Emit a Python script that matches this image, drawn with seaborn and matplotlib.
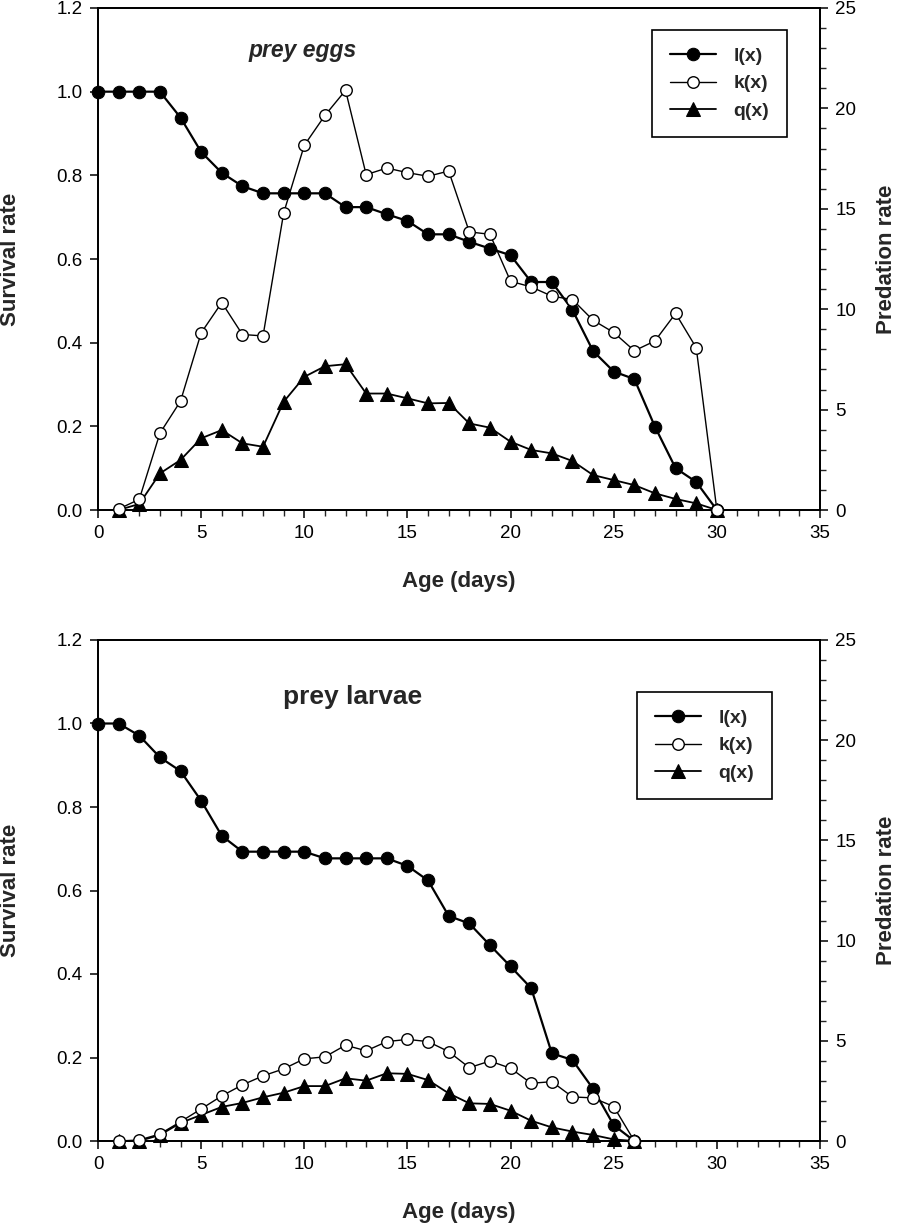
import matplotlib
matplotlib.use('Agg')
import matplotlib.pyplot as plt
import seaborn as sns
from matplotlib.ticker import MultipleLocator, FormatStrFormatter

sns.set_style('ticks')
plt.rcParams['font.family'] = ['Liberation Sans', 'DejaVu Sans']

# prey eggs (top panel)
eggs_age_l = list(range(0, 31))
eggs_lx = [1.0, 1.0, 1.0, 1.0, 0.938, 0.856, 0.806, 0.774, 0.757, 0.757, 0.757,
           0.757, 0.724, 0.724, 0.707, 0.691, 0.659, 0.659, 0.641, 0.625, 0.609,
           0.545, 0.545, 0.478, 0.38, 0.331, 0.313, 0.199, 0.1, 0.067, 0.0]
eggs_age_kq = list(range(1, 31))
eggs_kx = [0.05, 0.53, 3.82, 5.42, 8.82, 10.33, 8.74, 8.67, 14.79, 18.16, 19.65,
           20.9, 16.7, 17.03, 16.8, 16.62, 16.88, 13.85, 13.73, 11.39, 11.11,
           10.65, 10.48, 9.45, 8.84, 7.93, 8.42, 9.79, 8.08, 0.0]
eggs_qx = [0.0, 0.3, 1.82, 2.49, 3.57, 3.98, 3.32, 3.15, 5.39, 6.63, 7.16, 7.26,
           5.8, 5.8, 5.56, 5.31, 5.33, 4.31, 4.1, 3.4, 2.99, 2.82, 2.44, 1.74,
           1.49, 1.24, 0.83, 0.55, 0.33, 0.0]

# prey larvae (bottom panel)
larv_age_l = list(range(0, 27))
larv_lx = [1.0, 1.0, 0.971, 0.919, 0.886, 0.815, 0.731, 0.693, 0.693, 0.693,
           0.693, 0.677, 0.677, 0.677, 0.677, 0.659, 0.624, 0.539, 0.521, 0.469,
           0.418, 0.366, 0.21, 0.194, 0.125, 0.038, 0.0]
larv_age_kq = list(range(1, 27))
larv_kx = [0.0, 0.05, 0.35, 0.96, 1.6, 2.25, 2.8, 3.25, 3.6, 4.1, 4.2, 4.78, 4.5,
           4.96, 5.07, 4.96, 4.46, 3.66, 3.99, 3.63, 2.88, 2.96, 2.2, 2.15, 1.72, 0.0]
larv_qx = [0.0, 0.0, 0.3, 0.9, 1.3, 1.7, 1.9, 2.18, 2.41, 2.74, 2.74, 3.13, 3.01,
           3.38, 3.35, 3.04, 2.38, 1.88, 1.85, 1.51, 1.01, 0.68, 0.47, 0.3, 0.08, 0.0]

series_names = ['l(x)', 'k(x)', 'q(x)']


def draw_panel(fig, rect, age_l, lx, age_kq, kx, qx, title, title_style,
               title_size, title_xy, legend_anchor):
    ax = fig.add_axes(rect)
    ax2 = ax.twinx()

    sns.lineplot(x=age_l, y=lx, ax=ax, color='black', linewidth=1.6,
                 marker='o', markersize=9, markerfacecolor='black',
                 markeredgecolor='black', legend=False, clip_on=False, zorder=5)
    sns.lineplot(x=age_kq, y=kx, ax=ax2, color='black', linewidth=1.0,
                 marker='o', markersize=8.3, markerfacecolor='white',
                 markeredgecolor='black', markeredgewidth=1.0, legend=False,
                 clip_on=False, zorder=4)
    sns.lineplot(x=age_kq, y=qx, ax=ax2, color='black', linewidth=1.3,
                 marker='^', markersize=9.8, markerfacecolor='black',
                 markeredgecolor='black', legend=False, clip_on=False, zorder=3)

    ax.set_xlim(0, 35)
    ax.set_ylim(0, 1.2)
    ax2.set_ylim(0, 25)
    ax.xaxis.set_major_locator(MultipleLocator(5))
    ax.xaxis.set_minor_locator(MultipleLocator(1))
    ax.yaxis.set_major_locator(MultipleLocator(0.2))
    ax.yaxis.set_major_formatter(FormatStrFormatter('%.1f'))
    ax2.yaxis.set_major_locator(MultipleLocator(5))
    ax2.yaxis.set_minor_locator(MultipleLocator(1))

    for a in (ax, ax2):
        a.tick_params(which='major', direction='out', length=6, width=1.1,
                      labelsize=13.5, colors='black', pad=5)
        a.tick_params(which='minor', direction='out', length=4.5, width=1.0)
        for s in a.spines.values():
            s.set_linewidth(1.3)
            s.set_color('black')
            s.set_visible(True)

    ax.set_xlabel('Age (days)', fontsize=16, fontweight='bold')
    ax.set_ylabel('Survival rate', fontsize=16, fontweight='bold')
    ax2.set_ylabel('Predation rate', fontsize=16, fontweight='bold',
                   rotation=90)
    ax.xaxis.set_label_coords(0.5, -0.122)
    ax.yaxis.set_label_coords(-0.106, 0.5)
    ax2.yaxis.set_label_coords(1.077, 0.5)

    ax.text(title_xy[0], title_xy[1], title, transform=ax.transAxes,
            fontsize=title_size, fontweight='bold', fontstyle=title_style,
            ha='center', va='center')

    handles = [ax.lines[0], ax2.lines[0], ax2.lines[1]]
    leg = ax2.legend(handles, series_names, loc='upper left',
                     bbox_to_anchor=legend_anchor, bbox_transform=fig.transFigure,
                     frameon=True, fancybox=False, edgecolor='black',
                     framealpha=1, handlelength=2.4, handletextpad=0.9,
                     labelspacing=0.5, borderpad=0.9, borderaxespad=0,
                     prop={'size': 14, 'weight': 'bold'})
    leg.get_frame().set_linewidth(1.2)
    return ax, ax2


fig = plt.figure(figsize=(8.98, 12.26), dpi=100)

draw_panel(fig, [98 / 898, 1 - 510 / 1226, 722 / 898, 502 / 1226],
           eggs_age_l, eggs_lx, eggs_age_kq, eggs_kx, eggs_qx,
           'prey eggs', 'italic', 16.5, (0.284, 0.916),
           (652 / 898, 1 - 30 / 1226))

draw_panel(fig, [98 / 898, 1 - 1141 / 1226, 722 / 898, 501 / 1226],
           larv_age_l, larv_lx, larv_age_kq, larv_kx, larv_qx,
           'prey larvae', 'normal', 19, (0.352, 0.886),
           (637 / 898, 1 - 692 / 1226))

fig.savefig('out.png', dpi=100)
